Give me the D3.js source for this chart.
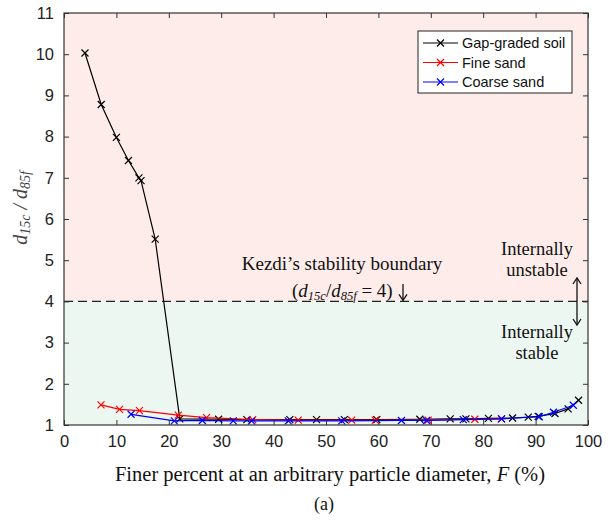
<!DOCTYPE html>
<html><head><meta charset="utf-8">
<script src="https://cdn.jsdelivr.net/npm/d3@7"></script>
<style>html,body{margin:0;padding:0;background:#fff;}svg{display:block;}</style>
</head><body>
<svg id="chart" width="613" height="526"></svg>
<script>
// ---- data ----
const xTicks = [0,10,20,30,40,50,60,70,80,90,100];
const yTicks = [1,2,3,4,5,6,7,8,9,10,11];
const seriesNames = ["Gap-graded soil","Fine sand","Coarse sand"];
const gapX = [4,7.1,10,12.3,14.3,14.7,17.4,22.1,29.5,34.9,43.1,48.2,53.5,59.7,67.9,73.7,76.7,81,85.6,88.6,90.5,93.7,96.2,98.2];
const gapY = [10.03,8.78,7.98,7.42,7.0,6.93,5.51,1.15,1.14,1.13,1.13,1.13,1.13,1.13,1.14,1.15,1.15,1.16,1.17,1.19,1.21,1.28,1.39,1.60];
const fineX = [7.06,10.6,14.4,21.8,27.2,36,44.7,54.9,59.4,69.5,78.4,83.5];
const fineY = [1.49,1.38,1.35,1.24,1.18,1.13,1.12,1.12,1.12,1.12,1.14,1.15];
const coarseX = [12.8,21.05,26.4,32.3,35.8,42.8,53,64.4,69.2,76.2,83.5,90.7,93.4,97.2];
const coarseY = [1.26,1.10,1.11,1.10,1.10,1.10,1.10,1.11,1.11,1.13,1.15,1.20,1.31,1.48];
const boundary = 4;
const seriesColors = ["#000000","#ff0000","#0000ff"];

const svg = d3.select("#chart");
const L=64,R=588,T=13,B=425;
const x = d3.scaleLinear().domain([0,100]).range([L,R]);
const y = d3.scaleLinear().domain([1,11]).range([B,T]);

// background regions
svg.append("rect").attr("x",x(0)).attr("y",y(11)).attr("width",x(100)-x(0)).attr("height",y(boundary)-y(11)).attr("fill","#fdecea");
svg.append("rect").attr("x",x(0)).attr("y",y(boundary)).attr("width",x(100)-x(0)).attr("height",y(1)-y(boundary)).attr("fill","#edf7f1");

// boundary dashed line
svg.append("line").attr("x1",x(0)).attr("x2",x(100)).attr("y1",y(boundary)).attr("y2",y(boundary))
  .attr("stroke","#222").attr("stroke-width",1.3).attr("stroke-dasharray","9,5");

// axes
const fontTick = "'Liberation Sans', Arial, sans-serif";
function styleAxis(g){
  g.select(".domain").remove();
  g.selectAll(".tick line").attr("stroke","#333");
  g.selectAll(".tick text").attr("font-family",fontTick).attr("font-size","16.5px").attr("fill","#222");
}
svg.append("g").attr("transform",`translate(0,${B})`)
  .call(d3.axisBottom(x).tickValues(xTicks).tickSize(-5).tickPadding(10)).call(styleAxis);
svg.append("g").attr("transform",`translate(0,${T})`)
  .call(d3.axisTop(x).tickValues(xTicks).tickSize(-5).tickFormat("")).call(styleAxis);
svg.append("g").attr("transform",`translate(${L},0)`)
  .call(d3.axisLeft(y).tickValues(yTicks).tickSize(-5).tickPadding(10)).call(styleAxis);
svg.append("g").attr("transform",`translate(${R},0)`)
  .call(d3.axisRight(y).tickValues(yTicks).tickSize(-5).tickFormat("")).call(styleAxis);

// box
svg.append("rect").attr("x",L).attr("y",T).attr("width",R-L).attr("height",B-T)
  .attr("fill","none").attr("stroke","#333").attr("stroke-width",1.2);

// series
const line = d3.line().x(d=>x(d[0])).y(d=>y(d[1]));
const series = [
  d3.zip(gapX,gapY),
  d3.zip(fineX,fineY),
  d3.zip(coarseX,coarseY)
];
const ms = 3.5;
function crossPath(cx,cy){return `M${cx-ms},${cy-ms}L${cx+ms},${cy+ms}M${cx-ms},${cy+ms}L${cx+ms},${cy-ms}`;}
series.forEach((s,i)=>{
  const g = svg.append("g");
  g.append("path").attr("d",line(s)).attr("fill","none").attr("stroke",seriesColors[i]).attr("stroke-width",1.2);
  g.selectAll("path.m").data(s).enter().append("path").attr("class","m")
    .attr("d",d=>crossPath(x(d[0]),y(d[1]))).attr("stroke",seriesColors[i]).attr("stroke-width",1.2);
});

// legend
const lg = svg.append("g");
lg.append("rect").attr("x",418).attr("y",31).attr("width",154).attr("height",62).attr("fill","#fff").attr("stroke","#222").attr("stroke-width",1);
seriesNames.forEach((n,i)=>{
  const yy = 43 + i*19.5;
  lg.append("line").attr("x1",423).attr("x2",458).attr("y1",yy).attr("y2",yy).attr("stroke",seriesColors[i]).attr("stroke-width",1.2);
  lg.append("path").attr("d",crossPath(440.5,yy)).attr("stroke",seriesColors[i]).attr("stroke-width",1.2);
  lg.append("text").attr("x",462).attr("y",yy+5).attr("font-family",fontTick).attr("font-size","14.5px").attr("fill","#111").text(n);
});

// annotations
const serif = "'Liberation Serif','Times New Roman',serif";
svg.append("text").attr("x",342).attr("y",270).attr("text-anchor","middle").attr("font-family",serif).attr("font-size","19px").attr("fill","#111")
  .text("Kezdi\u2019s stability boundary");
const t2 = svg.append("text").attr("x",292).attr("y",297).attr("font-family",serif).attr("font-size","19px").attr("fill","#111");
t2.append("tspan").text("(");
t2.append("tspan").attr("font-style","italic").text("d");
t2.append("tspan").attr("font-style","italic").attr("font-size","12.5px").attr("dy",3).text("15c");
t2.append("tspan").attr("dy",-3).text("/");
t2.append("tspan").attr("font-style","italic").text("d");
t2.append("tspan").attr("font-style","italic").attr("font-size","12.5px").attr("dy",3).text("85f");
t2.append("tspan").attr("dy",-3).text(" = 4)");

// down arrow to boundary
const ax = 403;
svg.append("line").attr("x1",ax).attr("x2",ax).attr("y1",284).attr("y2",y(boundary)-1).attr("stroke","#111").attr("stroke-width",1.3);
svg.append("path").attr("d",`M${ax-4},${y(boundary)-7}L${ax},${y(boundary)-1}L${ax+4},${y(boundary)-7}`).attr("fill","none").attr("stroke","#111").attr("stroke-width",1.3);

// right labels
[["Internally",255],["unstable",276],["Internally",338],["stable",359]].forEach(d=>{
  svg.append("text").attr("x",537).attr("y",d[1]).attr("text-anchor","middle").attr("font-family",serif).attr("font-size","18.5px").attr("fill","#111").text(d[0]);
});
// double arrow
const dx = 577, dy1 = 278, dy2 = 325;
svg.append("line").attr("x1",dx).attr("x2",dx).attr("y1",dy1).attr("y2",dy2).attr("stroke","#111").attr("stroke-width",1.3);
svg.append("path").attr("d",`M${dx-4},${dy1+6}L${dx},${dy1}L${dx+4},${dy1+6}M${dx-4},${dy2-6}L${dx},${dy2}L${dx+4},${dy2-6}`).attr("fill","none").attr("stroke","#111").attr("stroke-width",1.3);

// axis titles
svg.append("text").attr("x",330).attr("y",481).attr("text-anchor","middle").attr("font-family",serif).attr("font-size","20.5px").attr("fill","#111")
  .call(t=>{
    t.append("tspan").text("Finer percent at an arbitrary particle diameter, ");
    t.append("tspan").attr("font-style","italic").text("F");
    t.append("tspan").text(" (%)");
  });
svg.append("text").attr("x",324).attr("y",510).attr("text-anchor","middle").attr("font-family",serif).attr("font-size","18px").attr("fill","#111").text("(a)");

const yl = svg.append("text").attr("transform","translate(27,208) rotate(-90)").attr("text-anchor","middle")
  .attr("font-family",serif).attr("font-style","italic").attr("font-size","20px").attr("fill","#444");
yl.append("tspan").text("d");
yl.append("tspan").attr("font-size","14px").attr("dy",3).text("15c");
yl.append("tspan").attr("dy",-3).text(" / d");
yl.append("tspan").attr("font-size","14px").attr("dy",3).text("85f");
</script>
</body></html>
